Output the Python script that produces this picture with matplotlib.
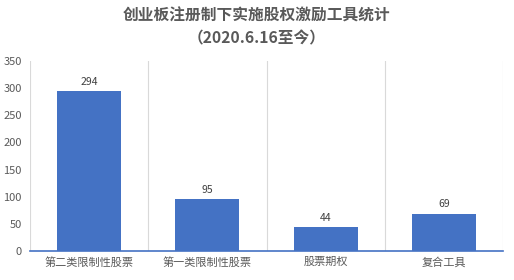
import matplotlib.pyplot as plt
import numpy as np

plt.rcParams['font.family'] = ['Noto Sans CJK SC', 'DejaVu Sans']

# 数据
categories = ['第二类限制性股票', '第一类限制性股票', '股票期权', '复合工具']
counts = [294, 95, 44, 69]
yticks = [0, 50, 100, 150, 200, 250, 300, 350]

bar_color = '#4472C4'
text_color = '#595959'

fig = plt.figure(figsize=(5.14, 2.8), dpi=100)
ax = fig.add_axes([0.0584, 0.1036, 0.9202, 0.6784])

x = np.arange(len(categories))
ax.bar(x, counts, width=0.54, color=bar_color, zorder=3)
for xi, v in zip(x, counts):
    ax.text(xi, v + 8, str(v), ha='center', va='bottom', fontsize=7.5, color='#404040')

ax.set_xlim(-0.5, len(categories) - 0.5)
ax.set_ylim(0, 350)
ax.set_yticks(yticks)
ax.set_xticks(x)
ax.set_xticklabels(categories)
ax.tick_params(axis='both', length=0, colors=text_color, labelsize=8)
ax.tick_params(axis='x', pad=4)
ax.tick_params(axis='y', pad=6)

# 类别分隔线
for b in np.arange(-0.5, len(categories) + 0.5, 1):
    ax.axvline(b, color='#D9D9D9', lw=0.8, zorder=1)

for s in ['top', 'right', 'left']:
    ax.spines[s].set_visible(False)
ax.spines['bottom'].set_color(bar_color)
ax.spines['bottom'].set_linewidth(1.2)

fig.text(0.5, 0.943, '创业板注册制下实施股权激励工具统计', ha='center', va='center',
         fontsize=11.3, fontweight='bold', color=text_color)
fig.text(0.5, 0.862, '（2020.6.16至今）', ha='center', va='center',
         fontsize=11.3, fontweight='bold', color=text_color)

fig.savefig('out.png', dpi=100)
